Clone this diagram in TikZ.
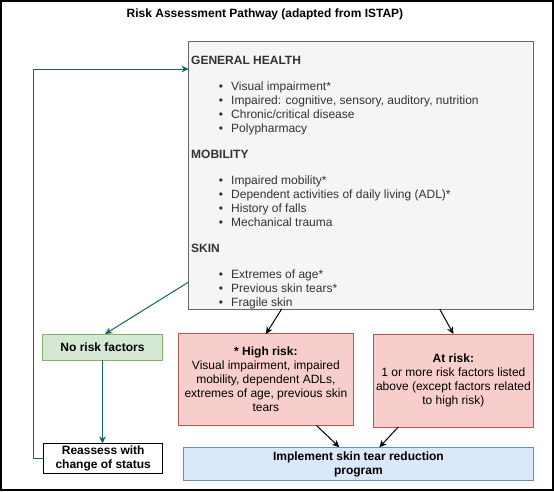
\documentclass[tikz,border=0pt]{standalone}
\usepackage{fontspec}
\setmainfont{Liberation Sans}
\usetikzlibrary{arrows.meta}
\definecolor{tealc}{HTML}{146464}
\definecolor{grayfill}{HTML}{F5F5F5}
\definecolor{graydraw}{HTML}{666666}
\definecolor{graytext}{HTML}{333333}
\definecolor{greenfill}{HTML}{D5E8D4}
\definecolor{greendraw}{HTML}{82B366}
\definecolor{redfill}{HTML}{F8CECC}
\definecolor{reddraw}{HTML}{B85450}
\definecolor{bluefill}{HTML}{DAE8FC}
\definecolor{bluedraw}{HTML}{6C8EBF}
\begin{document}
\begin{tikzpicture}[x=1pt,y=-1pt,
  every node/.style={font=\fontsize{12}{14}\selectfont},
  box/.style={draw, line width=1pt, inner sep=0pt, outer sep=0pt, align=center},
  heading/.style={anchor=base west, inner sep=0pt, text=graytext, font=\fontsize{12}{14}\selectfont\bfseries},
  item/.style={anchor=base west, inner sep=0pt, text=graytext},
  bul/.style={anchor=base, inner sep=0pt, text=graytext},
  tealarrow/.style={draw=tealc, line width=1pt, -{Stealth[length=7pt,width=6.5pt,inset=2pt]}},
  blackarrow/.style={draw=black, line width=1pt, -{Stealth[length=7pt,width=6.5pt,inset=2pt]}}
]
\useasboundingbox (0,0) rectangle (554,491);
\node[draw=black, line width=2pt, minimum width=552pt, minimum height=489pt, inner sep=0pt, outer sep=0pt] (frame) at (277,245.5) {};
\node[inner sep=0pt, font=\fontsize{12}{14}\selectfont\bfseries] (title) at (265,14) {Risk Assessment Pathway (adapted from ISTAP)};

% gray risk factor box
\node[box, draw=graydraw, fill=grayfill, minimum width=344.8pt, minimum height=268pt] (gray) at (361.1,175) {};

\node[heading] (h1) at (191,64.3) {GENERAL HEALTH};
\node[heading] (h2) at (191,158.3) {MOBILITY};
\node[heading] (h3) at (191,252.3) {SKIN};

\foreach \t [count=\i] in {Visual impairment*, {Impaired: cognitive, sensory, auditory, nutrition}, Chronic/critical disease, Polypharmacy}{
  \node[bul] (ba\i) at (221,76.3+14*\i) {\textbullet};
  \node[item] (ia\i) at (231,76.3+14*\i) {\t};
}
\foreach \t [count=\i] in {Impaired mobility*, Dependent activities of daily living (ADL)*, History of falls, Mechanical trauma}{
  \node[bul] (bb\i) at (221,170.3+14*\i) {\textbullet};
  \node[item] (ib\i) at (231,170.3+14*\i) {\t};
}
\foreach \t [count=\i] in {Extremes of age*, Previous skin tears*, Fragile skin}{
  \node[bul] (bc\i) at (221,264.3+14*\i) {\textbullet};
  \node[item] (ic\i) at (231,264.3+14*\i) {\t};
}

% outcome boxes
\node[box, draw=greendraw, fill=greenfill, minimum width=120.1pt, minimum height=26pt, font=\fontsize{12}{14}\selectfont\bfseries] (norisk) at (102.5,347) {No risk factors};

\node[box, draw=reddraw, fill=redfill, minimum width=174.9pt, minimum height=91.5pt] (high) at (265.9,379.7)
  {{\bfseries * High risk:}\\Visual impairment, impaired\\mobility, dependent ADLs,\\extremes of age, previous skin\\tears};

\node[box, draw=reddraw, fill=redfill, minimum width=160.1pt, minimum height=93pt] (atrisk) at (453.4,380.5)
  {{\bfseries At risk:}\\1 or more risk factors listed\\above (except factors related\\to high risk)};

\node[box, draw=black, fill=white, minimum width=119.5pt, minimum height=30pt, font=\fontsize{12}{14}\selectfont\bfseries] (reassess) at (103.2,458.5)
  {Reassess with\\change of status};

\node[box, draw=bluedraw, fill=bluefill, minimum width=350.1pt, minimum height=33.5pt, font=\fontsize{12}{14}\selectfont\bfseries] (impl) at (358.4,464)
  {Implement skin tear reduction\\program};

% connectors
\draw[tealarrow] ([yshift=27pt]gray.south west) -- ([xshift=2.5pt]norisk.north);
\draw[tealarrow] (norisk.south) -- (reassess.north -| norisk.south);
\draw[tealarrow] (reassess.west) -- ++(-10,0) |- ([yshift=-28pt]gray.north west);
\draw[blackarrow] ([xshift=93pt]gray.south west) -- (high.north);
\draw[blackarrow] ([xshift=251pt]gray.south west) -- (atrisk.north);
\draw[blackarrow] ([xshift=138pt]high.south west) -- ([xshift=156pt]impl.north west);
\draw[blackarrow] ([xshift=25pt]atrisk.south west) -- ([xshift=196pt]impl.north west);
\end{tikzpicture}
\end{document}
